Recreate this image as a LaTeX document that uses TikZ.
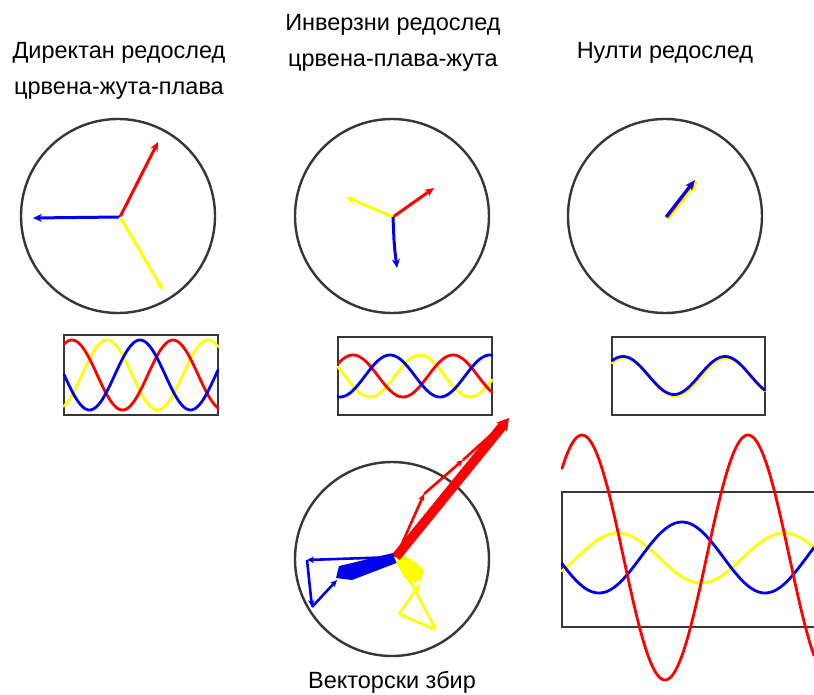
\documentclass[tikz,border=0pt]{standalone}
\usepackage{fontspec}
\setmainfont{Liberation Sans}
\usetikzlibrary{arrows.meta}
\definecolor{rd}{RGB}{255,0,0}
\definecolor{yl}{RGB}{255,255,0}
\definecolor{bl}{RGB}{0,0,235}
\definecolor{frame}{RGB}{55,55,55}
\begin{document}
\begin{tikzpicture}[x=1pt,y=-1pt,
  ring/.style={circle, draw=frame, line width=2.4pt, minimum size=194pt, inner sep=0pt},
  wavebox/.style={draw=frame, line width=2.2pt, inner sep=0pt},
  vec/.style={line width=3pt, -{Stealth[length=9pt,width=8pt]}},
  thinvec/.style={line width=2.6pt, -{Stealth[length=7pt,width=6.5pt]}},
  wave/.style={line width=2.8pt, line join=round, line cap=round},
  lbl/.style={font=\fontsize{23.5}{28}\selectfont, anchor=base, inner sep=0pt}
]
\useasboundingbox (0,0) rectangle (814,695);

% ---------- titles ----------
\node[lbl] (t1a) at (119,59) {Директан редослед};
\node[lbl] (t1b) at (119,95) {црвена-жута-плава};
\node[lbl] (t2a) at (393,31) {Инверзни редослед};
\node[lbl] (t2b) at (393,67) {црвена-плава-жута};
\node[lbl] (t3a) at (665,59) {Нулти редослед};
\node[lbl] (t4)  at (392,688) {Векторски збир};

% ---------- circle 1: positive sequence ----------
\node[ring] (c1) at (118,216) {};
\coordinate (o1) at (120,217);
\draw[vec, rd] (o1) -- (158,142);
\draw[vec, bl] (o1) -- (33,218);
\draw[vec, yl] (o1) -- (163,290);

% ---------- circle 2: negative sequence ----------
\node[ring] (c2) at (392,216) {};
\coordinate (o2) at (393,217);
\draw[vec, rd] (o2) -- (434,188);
\draw[vec, yl] (o2) -- (346,197);
\draw[vec, bl] (o2) -- (394,240) -- (395,252) -- (397,268);

% ---------- circle 3: zero sequence ----------
\node[ring] (c3) at (665,216) {};
\coordinate (o3) at (666,217);
\draw[vec, yl] (668,219) -- (697,182);
\draw[vec, rd] (667,217) -- (695,180);
\draw[vec, bl] (o3) -- (694,181);

% ---------- wave box 1 ----------
\node[wavebox, minimum width=154pt, minimum height=80pt] (b1) at (141,375) {};
\draw[wave, yl] plot[domain=64:218, samples=90, smooth] (\x, {375-35*cos((\x-107)/101*360)});
\draw[wave, rd] plot[domain=64:218, samples=90, smooth] (\x, {375-35*cos((\x-72)/101*360)});
\draw[wave, bl] plot[domain=64:218, samples=90, smooth] (\x, {375-35*cos((\x-140)/101*360)});

% ---------- wave box 2 ----------
\node[wavebox, minimum width=154pt, minimum height=78pt] (b2) at (415,376) {};
\draw[wave, yl] plot[domain=338:492, samples=90, smooth] (\x, {376-21*cos((\x-420)/100*360)});
\draw[wave, rd] plot[domain=338:492, samples=90, smooth] (\x, {376-21*cos((\x-353)/100*360)});
\draw[wave, bl] plot[domain=338:492, samples=90, smooth] (\x, {376-21*cos((\x-390)/100*360)});

% ---------- wave box 3 ----------
\node[wavebox, minimum width=153pt, minimum height=78pt] (b3) at (688.5,376) {};
\draw[wave, yl] plot[domain=612:765, samples=90, smooth] (\x, {377-19*cos((\x-624)/102*360)});
\draw[wave, bl] plot[domain=612:765, samples=90, smooth] (\x, {375.5-19*cos((\x-623)/102*360)});

% ---------- vector sum circle ----------
\node[ring] (c4) at (392,559) {};
\coordinate (o4) at (396,557);
% blue
\fill[bl] (397,552) -- (399,562) -- (352,580) -- (336,578) -- (339,566) -- (352,563) -- cycle;
\draw[thinvec, bl] (o4) -- (307,560);
\draw[thinvec, bl] (307,560) -- (312,607);
\draw[thinvec, bl] (312,607) -- (337,580);
% yellow
\fill[yl] (394,557) -- (404,555) -- (416,563) -- (424,570) -- (421,580) -- (410,584) -- (402,574) -- cycle;
\draw[thinvec, yl] (400,562) -- (436,630);
\draw[thinvec, yl] (436,630) -- (399,614);
\draw[thinvec, yl] (399,614) -- (420,584);
% red
\draw[thinvec, rd] (o4) -- (424,494);
\draw[thinvec, rd] (424,494) -- (463,460);
\draw[thinvec, rd] (463,460) -- (503,424);
\draw[line width=9.5pt, rd, -{Stealth[length=12pt,width=14pt]}] (o4) -- (509,418);

% ---------- big wave box ----------
\node[wavebox, minimum width=256pt, minimum height=135pt] (b5) at (690,559.5) {};
\draw[wave, yl] plot[domain=562:814, samples=120, smooth] (\x, {558-25*cos((\x-618)/166*360)});
\draw[wave, bl] plot[domain=562:814, samples=120, smooth] (\x, {557.5-35.5*cos((\x-682)/166*360)});
\draw[wave, rd] plot[domain=562:814, samples=150, smooth] (\x, {557.5-122.5*cos((\x-582)/166*360)});
\end{tikzpicture}
\end{document}
